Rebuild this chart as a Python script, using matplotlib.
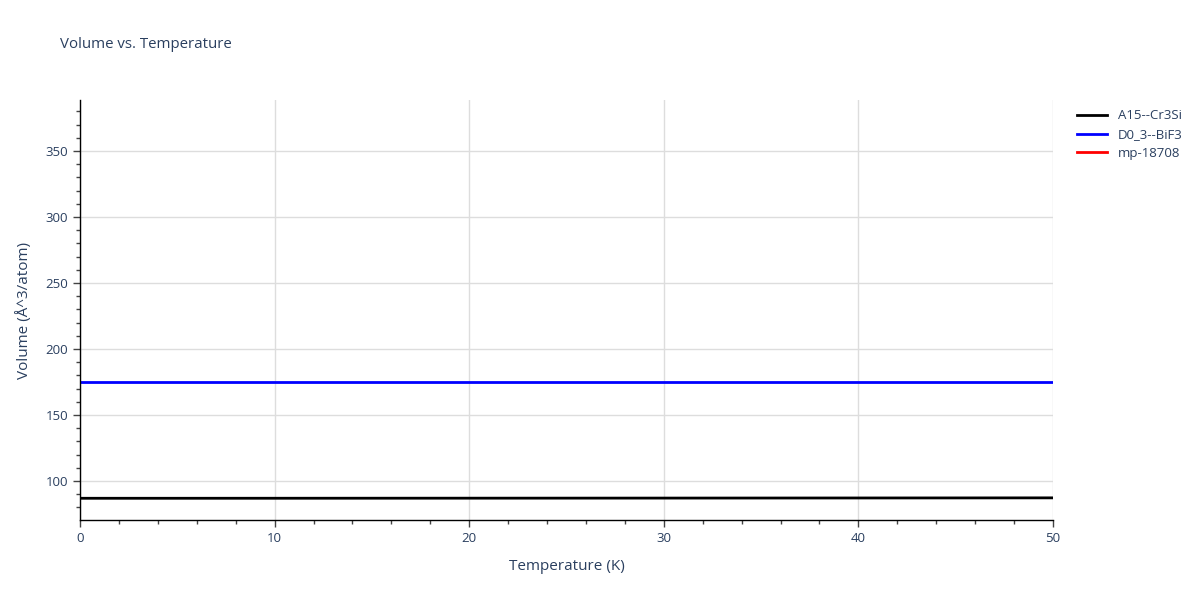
import matplotlib
matplotlib.use("Agg")
import matplotlib.pyplot as plt
from matplotlib.ticker import MultipleLocator

plt.rcParams['font.family'] = ['Open Sans', 'DejaVu Sans']

temps = [0, 5, 10, 15, 20, 25, 30, 35, 40, 45, 50]
a15_vol = [86.95, 86.95, 86.97, 87.0, 87.03, 87.06, 87.1, 87.14, 87.18, 87.22, 87.27]
d03_vol = [175.0, 175.0, 175.0, 175.0, 175.0, 175.0, 175.0, 175.0, 175.0, 175.0, 175.0]
mp_temps = []
mp_vol = []

series = [("A15--Cr3Si", temps, a15_vol, "black"),
          ("D0_3--BiF3", temps, d03_vol, "blue"),
          ("mp-18708", mp_temps, mp_vol, "red")]

txt = "#2a3f5f"
fig = plt.figure(figsize=(12, 6), dpi=100)
ax = fig.add_axes([80/1200, 1-520/600, (1053-80)/1200, 420/600])

for name, x, y, c in series:
    ax.plot(x, y, color=c, lw=2, label=name)

ax.set_xlim(0, 50)
ax.set_ylim(70.5, 388.6)
ax.xaxis.set_major_locator(MultipleLocator(10))
ax.xaxis.set_minor_locator(MultipleLocator(2))
ax.yaxis.set_minor_locator(MultipleLocator(10))
ax.set_yticks([100, 150, 200, 250, 300, 350])
ax.grid(True, which='major', color='#dddddd', lw=1)
ax.set_axisbelow(True)
for s in ['top', 'right']:
    ax.spines[s].set_visible(False)
for s in ['left', 'bottom']:
    ax.spines[s].set_color('black')
    ax.spines[s].set_linewidth(1)
ax.tick_params(which='major', direction='out', length=5, color='#444444', labelsize=9.5, labelcolor=txt, width=1)
ax.tick_params(which='minor', direction='out', length=3, color='#444444', width=1)
ax.set_xlabel("Temperature (K)", fontsize=11, color=txt, labelpad=10)
ax.set_ylabel("Volume (Å^3/atom)", fontsize=11, color=txt, labelpad=10)
fig.text(60/1200, 1-45/600, "Volume vs. Temperature", fontsize=10.8, color=txt, va='center')

leg = ax.legend(loc='upper left', bbox_to_anchor=(1.015, 1.0), frameon=False,
                fontsize=9.5, handlelength=2.3, labelspacing=0.45, borderaxespad=0.3)
for t in leg.get_texts():
    t.set_color(txt)

fig.savefig("out.png", dpi=100)
